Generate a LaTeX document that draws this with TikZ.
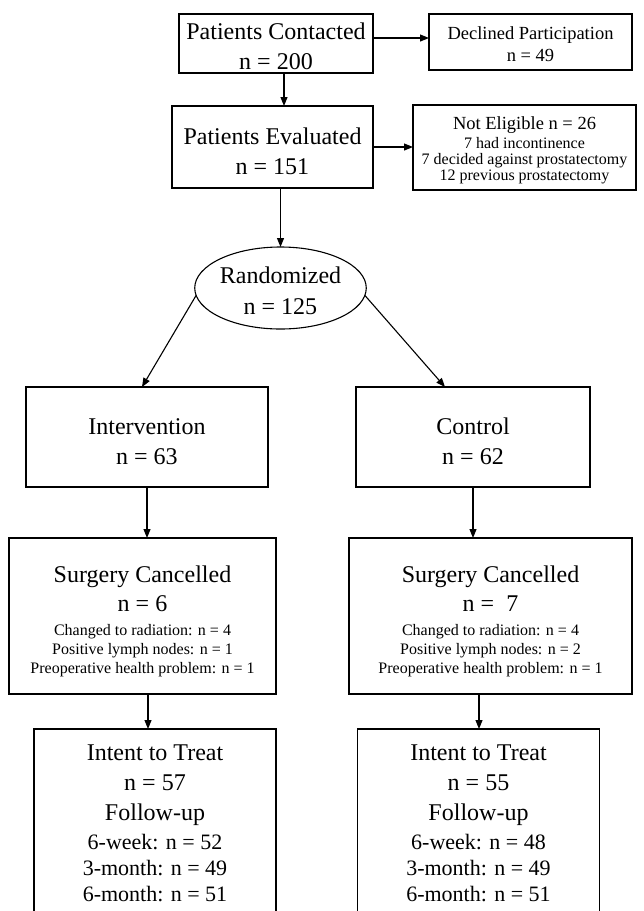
\documentclass[tikz,border=0pt]{standalone}
\usepackage{fontspec}
\setmainfont{Liberation Serif}
\usetikzlibrary{shapes.geometric,arrows.meta}
\newcommand{\fz}[1]{\fontsize{#1}{0}\selectfont}
\newcommand{\uprule}[1]{\rule{0pt}{#1}}
\begin{document}
\begin{tikzpicture}[x=1pt,y=-1pt,
  box/.style={draw,line width=1.1pt,inner sep=0pt,outer sep=0pt,align=center},
  arr/.style={line width=1.1pt,-{Triangle[length=9pt,width=7pt]}}]
\lineskiplimit=-1000pt \lineskip=0pt
\clip (0,0) rectangle (644,911);
\useasboundingbox (0,0) rectangle (644,911);
\fill[white] (0,0) rectangle (644,911);

\node[box,minimum width=194pt,minimum height=59pt,font=\fz{24}] (contact) at (276,43.5) {\uprule{22.4pt}Patients Contacted\\[30pt] n = 200};
\node[box,minimum width=203pt,minimum height=56pt,font=\fz{18.5}] (decl) at (530.5,42) {\uprule{16.6pt}Declined Participation\\[22pt] n = 49};
\node[box,minimum width=201pt,minimum height=82pt,font=\fz{24}] (eval) at (272.5,147) {\uprule{24.4pt}Patients Evaluated\\[30pt] n = 151};
\node[box,minimum width=223pt,minimum height=85pt,font=\fz{16}] (noteli) at (524.5,147.5) {{\fz{18.5}\uprule{18.6pt}Not Eligible n = 26}\\[19pt] 7 had incontinence\\[16pt] 7 decided against prostatectomy\\[16pt] 12 previous prostatectomy};
\node[box,ellipse,minimum width=153pt,minimum height=82pt,font=\fz{24}] (rand) at (280.5,288) {\uprule{22.4pt}Randomized\\[31pt] n = 125};
\node[box,minimum width=242pt,minimum height=100pt,font=\fz{24}] (interv) at (147,437) {\uprule{24.4pt}Intervention\\[30pt] n = 63};
\node[box,minimum width=234pt,minimum height=100pt,font=\fz{24}] (control) at (473,437) {\uprule{24.4pt}Control\\[30pt] n = 62};
\node[box,minimum width=267pt,minimum height=156pt,font=\fz{16}] (scL) at (142.5,616) {{\fz{24}\uprule{26.4pt}Surgery Cancelled}\\[29pt] {\fz{24}n = 6}\\[24pt] Changed to radiation: n = 4\\[19pt] Positive lymph nodes: n = 1\\[19pt] Preoperative health problem: n = 1};
\node[box,minimum width=283pt,minimum height=156pt,font=\fz{16}] (scR) at (490.5,616) {{\fz{24}\uprule{26.4pt}Surgery Cancelled}\\[29pt] {\fz{24}n = \ 7}\\[24pt] Changed to radiation: n = 4\\[19pt] Positive lymph nodes: n = 2\\[19pt] Preoperative health problem: n = 1};
\node[box,minimum width=242pt,minimum height=188pt,font=\fz{22}] (ittL) at (155,823) {{\fz{24}Intent to Treat}\\[30pt] {\fz{24}n = 57}\\[30pt] {\fz{24}Follow-up}\\[29pt] 6-week: n = 52\\[26pt] 3-month: n = 49\\[26pt] 6-month: n = 51};
\node[box,minimum width=242pt,minimum height=188pt,font=\fz{22}] (ittR) at (478.5,823) {{\fz{24}Intent to Treat}\\[30pt] {\fz{24}n = 55}\\[30pt] {\fz{24}Follow-up}\\[29pt] 6-week: n = 48\\[26pt] 3-month: n = 49\\[26pt] 6-month: n = 51};

\draw[arr] ([yshift=5.5pt]contact.east) -- ([yshift=5.5pt]contact.east -| decl.west);
\draw[arr] ([xshift=8pt]contact.south) -- ([xshift=8pt]contact.south |- eval.north);
\draw[arr] (eval.east) -- (eval.east -| noteli.west);
\draw[arr] (rand.north |- eval.south) -- (rand.north);
\draw[arr] (rand.185) -- ([xshift=-5pt]interv.north);
\draw[arr] (rand.355) -- ([xshift=-28pt]control.north);
\draw[arr] (interv.south) -- (interv.south |- scL.north);
\draw[arr] (control.south) -- (control.south |- scR.north);
\draw[arr] ([xshift=5.5pt]scL.south) -- ([xshift=5.5pt]scL.south |- ittL.north);
\draw[arr] ([xshift=-11.5pt]scR.south) -- ([xshift=-11.5pt]scR.south |- ittR.north);
\end{tikzpicture}
\end{document}
